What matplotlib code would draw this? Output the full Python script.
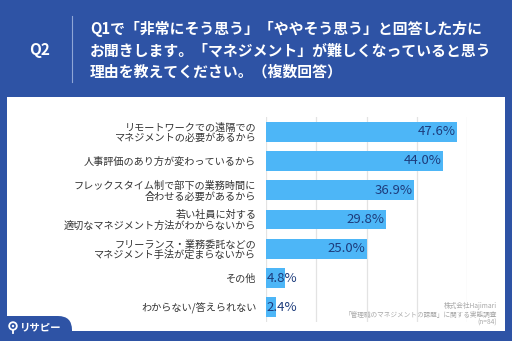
import matplotlib
matplotlib.use("Agg")
import matplotlib.pyplot as plt
from matplotlib.patches import Rectangle, FancyBboxPatch, Circle

plt.rcParams['font.family'] = ['Noto Sans CJK JP', 'DejaVu Sans']

# data
categories = [
    "リモートワークでの遠隔での\nマネジメントの必要があるから",
    "人事評価のあり方が変わっているから",
    "フレックスタイム制で部下の業務時間に\n合わせる必要があるから",
    "若い社員に対する\n適切なマネジメント方法がわからないから",
    "フリーランス・業務委託などの\nマネジメント手法が定まらないから",
    "その他",
    "わからない/答えられない",
]
values = [47.6, 44.0, 36.9, 29.8, 25.0, 4.8, 2.4]
grid_ticks = [0, 12.5, 25, 37.5, 50]

title_lines = [
    "Q1で「非常にそう思う」「ややそう思う」と回答した方に",
    "お聞きします。「マネジメント」が難しくなっていると思う",
    "理由を教えてください。（複数回答）",
]
note_lines = ["株式会社Hajimari", "「管理職のマネジメントの課題」に関する実態調査", "(n=84)"]

BLUE = "#2E53A5"
BAR = "#4DB6F7"
NAVY = "#1D3C7C"

W, H = 512, 341
fig = plt.figure(figsize=(W / 100, H / 100), dpi=100)
fig.patch.set_facecolor(BLUE)

# background layer in pixel coordinates
bg = fig.add_axes([0, 0, 1, 1])
bg.set_xlim(0, W)
bg.set_ylim(H, 0)
bg.axis('off')
bg.add_patch(Rectangle((7, 97), 498, 234, facecolor='white', edgecolor='none'))
bg.add_patch(FancyBboxPatch((-30, 316), 102, 40, boxstyle="round,pad=0,rounding_size=14",
                            facecolor=BLUE, edgecolor='none'))
bg.text(40, 50, "Q2", color='white', fontsize=11, fontweight='bold', ha='center', va='center')
bg.plot([72, 72], [16, 82], color='#8FA6D6', lw=0.8)
for i, line in enumerate(title_lines):
    bg.text(90, 29 + i * 21.5, line, color='white', fontsize=10.7, fontweight='bold',
            ha='left', va='center')
for i, line in enumerate(note_lines):
    bg.text(497, 306 + i * 8.5, line, color='#A8A8A8', fontsize=4.8, ha='right', va='center')
# logo
bg.add_patch(Circle((13, 326), 3.8, facecolor='none', edgecolor='white', lw=1.3))
bg.add_patch(Circle((13, 326), 1.2, facecolor='white', edgecolor='none'))
bg.plot([13, 13], [330, 333], color='white', lw=1.3)
bg.text(20, 327, "リサピー", color='white', fontsize=7.5, fontweight='bold', ha='left', va='center')

# chart
ax = fig.add_axes([266 / W, 1 - 322 / H, (467 - 266) / W, 205 / H])
ax.set_facecolor('none')
y = list(range(len(categories)))
ax.barh(y, values, height=0.68, color=BAR, zorder=2)
ax.set_xlim(0, 50)
ax.set_ylim(len(categories) - 0.5, -0.5)
ax.set_xticks(grid_ticks)
ax.grid(axis='x', color='#E3E3E3', lw=0.9, zorder=0)
ax.tick_params(axis='x', length=0, labelbottom=False)
ax.tick_params(axis='y', length=0, pad=7)
ax.set_yticks(y)
ax.set_yticklabels(categories, fontsize=7.3, color='#333333', linespacing=1.05)
for s in ax.spines.values():
    s.set_visible(False)

for yi, v in zip(y, values):
    if v >= 10:
        ax.text(v - 0.3, yi, f"{v:.1f}%", ha='right', va='center', fontsize=9.5, color=NAVY, zorder=3)
    else:
        ax.text(0.1, yi, f"{v:.1f}%", ha='left', va='center', fontsize=9.5, color=NAVY, zorder=3)

fig.savefig("out.png", dpi=100, facecolor=BLUE)
